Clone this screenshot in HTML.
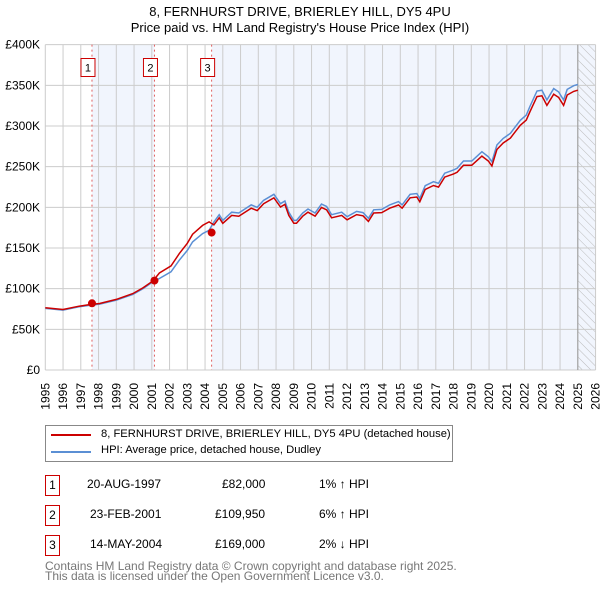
<!DOCTYPE html>
<html><head><meta charset="utf-8"><style>
body{margin:0;background:#fff;font-family:"Liberation Sans","DejaVu Sans",sans-serif;}
#wrap{position:relative;width:600px;height:590px;overflow:hidden;}
.t{position:absolute;font-size:12px;color:#000;white-space:nowrap;}
.box{position:absolute;width:13px;height:19px;border:1px solid #cc0000;font-size:12px;text-align:center;line-height:19px;}
</style></head><body>
<div id="wrap">
<div class="t" style="left:0;width:600px;text-align:center;top:4px;font-size:13px;">8, FERNHURST DRIVE, BRIERLEY HILL, DY5 4PU</div>
<div class="t" style="left:0;width:600px;text-align:center;top:20px;font-size:13px;">Price paid vs. HM Land Registry's House Price Index (HPI)</div>
<svg id="chart" width="600" height="420" style="position:absolute;left:0;top:0"></svg>
<div style="position:absolute;left:45px;top:425px;width:406px;height:35px;border:1px solid #888;">
 <div><div style="position:absolute;left:5px;top:8px;width:40px;height:2px;background:#cc0000"></div><div class="t" style="left:55px;top:2px;font-size:11.2px;">8, FERNHURST DRIVE, BRIERLEY HILL, DY5 4PU (detached house)</div></div>
 <div><div style="position:absolute;left:5px;top:25px;width:40px;height:2px;background:#5b8fd4"></div><div class="t" style="left:55px;top:18px;font-size:11.2px;">HPI: Average price, detached house, Dudley</div></div>
</div>
<div>
 <div class="box" style="left:45px;top:475px;">1</div>
 <div class="t" style="left:87px;top:477px;">20-AUG-1997</div>
 <div class="t" style="left:222px;top:477px;">£82,000</div>
 <div class="t" style="left:319px;top:477px;">1% ↑ HPI</div>
 <div class="box" style="left:45px;top:505px;">2</div>
 <div class="t" style="left:90px;top:507px;">23-FEB-2001</div>
 <div class="t" style="left:215px;top:507px;">£109,950</div>
 <div class="t" style="left:319px;top:507px;">6% ↑ HPI</div>
 <div class="box" style="left:45px;top:535px;">3</div>
 <div class="t" style="left:90px;top:537px;">14-MAY-2004</div>
 <div class="t" style="left:215px;top:537px;">£169,000</div>
 <div class="t" style="left:319px;top:537px;">2% ↓ HPI</div>
</div>
<div class="t" style="left:45px;top:559px;color:#777;">Contains HM Land Registry data © Crown copyright and database right 2025.</div>
<div class="t" style="left:45px;top:569px;color:#777;">This data is licensed under the Open Government Licence v3.0.</div>
</div>
<script>
const yearTicks=[1995,1996,1997,1998,1999,2000,2001,2002,2003,2004,2005,2006,2007,2008,2009,2010,2011,2012,2013,2014,2015,2016,2017,2018,2019,2020,2021,2022,2023,2024,2025,2026];
const valueTicks=[0,50,100,150,200,250,300,350,400];
const valueLabels=["£0","£50K","£100K","£150K","£200K","£250K","£300K","£350K","£400K"];
const hpiYears=[1995,1996,1996.9,1997.58,1998.06,1999,1999.93,2000.5,2001.06,2001.43,2002.08,2002.55,2003,2003.3,2003.86,2004.23,2004.5,2004.8,2005,2005.5,2005.9,2006.6,2006.94,2007.3,2007.88,2008.25,2008.5,2008.72,2009,2009.15,2009.5,2009.8,2010.2,2010.56,2010.85,2011.13,2011.7,2012,2012.54,2012.9,2013.2,2013.5,2013.95,2014.4,2014.9,2015.1,2015.55,2015.93,2016.1,2016.4,2016.87,2017.15,2017.5,2018,2018.2,2018.56,2019.03,2019.6,2019.97,2020.16,2020.44,2020.8,2021.2,2021.48,2021.76,2022.1,2022.3,2022.7,2022.98,2023.26,2023.64,2023.92,2024.2,2024.4,2024.77,2025];
const hpiValues=[75.7,73.6,77.7,79.8,81,86,93,100,108.4,112.5,120.7,135,147,157.5,167.7,171.8,182,191,184,194,193,203,200,208.6,216,204.5,207.8,194,184,184,193,198,193,204,201,191,194,188.5,195,193.5,186.5,197,197.5,203,207,203,216,217,211,226.6,231.5,229.5,242,246,248,257,257,268.4,262,256,276.6,284.8,291,299,307,313.5,324,343,344,332,346,342,332,345,349.6,351];
const saleYears=[1997.63,2001.15,2004.37];
const salePrices=[82,109.95,169];
const saleHpiDiff=[0.01,0.06,-0.02];
const saleLabels=["1","2","3"];

const NS="http://www.w3.org/2000/svg";
const svg=document.getElementById('chart');
const X0=45.3,PX=17.75,Y0=370,PY=0.8133;
const xs=y=>X0+(y-1995)*PX;
const ys=v=>Y0-v*PY;
function mk(t,a){const e=document.createElementNS(NS,t);for(const k in a)e.setAttribute(k,a[k]);svg.appendChild(e);return e;}
const sh1=mk('rect',{x:xs(saleYears[0]),y:ys(400),width:xs(saleYears[1])-xs(saleYears[0]),height:ys(0)-ys(400),fill:'#eef3fd',opacity:0.8});


const sh2=mk('rect',{x:xs(saleYears[2]),y:ys(400),width:xs(2026)-xs(saleYears[2]),height:ys(0)-ys(400),fill:'#eef3fd',opacity:0.8});


const defs=document.createElementNS(NS,'defs');
defs.innerHTML='<pattern id="h" width="6" height="6" patternUnits="userSpaceOnUse" patternTransform="rotate(-45)"><line x1="0" y1="0" x2="0" y2="6" stroke="#bbb" stroke-width="1"/></pattern>';
svg.appendChild(defs);
const hatch=mk('rect',{x:xs(2025),y:ys(400),width:xs(2026)-xs(2025),height:ys(0)-ys(400),fill:'url(#h)'});


yearTicks.forEach(y=>{
 const l=mk('line',{x1:xs(y),x2:xs(y),y1:ys(400),y2:ys(0),stroke:'#ccc','stroke-width':1});
 
 
 const t=mk('text',{x:0,y:0,transform:`translate(${xs(y)+4},383) rotate(-90)`,'font-size':12,'text-anchor':'end',fill:'#000'});
 
 
 t.textContent=y;
});
valueTicks.forEach((v,i)=>{
 const l=mk('line',{x1:xs(1995),x2:xs(2026),y1:ys(v),y2:ys(v),stroke:'#ccc','stroke-width':1});
 
 
 const t=mk('text',{x:40,y:ys(v)+4,'font-size':12,'text-anchor':'end',fill:'#000'});
 
 
 t.textContent=valueLabels[i];
});
mk('line',{x1:xs(2025),x2:xs(2025),y1:ys(400),y2:ys(0),stroke:'#999','stroke-width':1});
saleYears.forEach((y,i)=>{
 const l=mk('line',{x1:xs(y),x2:xs(y),y1:ys(400),y2:ys(0),stroke:'#e06060','stroke-width':1,'stroke-dasharray':'2,3'});
 
 
 const r=mk('rect',{x:xs(y)-11,y:ys(383),width:14,height:18,fill:'#fff',stroke:'#cc0000'});
 
 
 const t=mk('text',{x:xs(y)-4,y:ys(383)+13,'font-size':11,'text-anchor':'middle'});
 
 
 t.textContent=saleLabels[i];
});
const hp=hpiYears.map((y,i)=>xs(y).toFixed(1)+','+ys(hpiValues[i]).toFixed(1)).join(' ');
function factor(y){let f=1+saleHpiDiff[0];for(let i=0;i<saleYears.length;i++)if(y>=saleYears[i])f=1+saleHpiDiff[i];return f;}
const rp=hpiYears.map((y,i)=>xs(y).toFixed(1)+','+ys(hpiValues[i]*factor(y)).toFixed(1)).join(' ');
const hl=mk('polyline',{points:hp,fill:'none',stroke:'#5b8fd4','stroke-width':1.5});


const rl=mk('polyline',{points:rp,fill:'none',stroke:'#cc0000','stroke-width':1.5});


saleYears.forEach((y,i)=>{
 const c=mk('circle',{cx:xs(y),cy:ys(salePrices[i]),r:4,fill:'#cc0000'});
 
 
});
</script>
</body></html>
